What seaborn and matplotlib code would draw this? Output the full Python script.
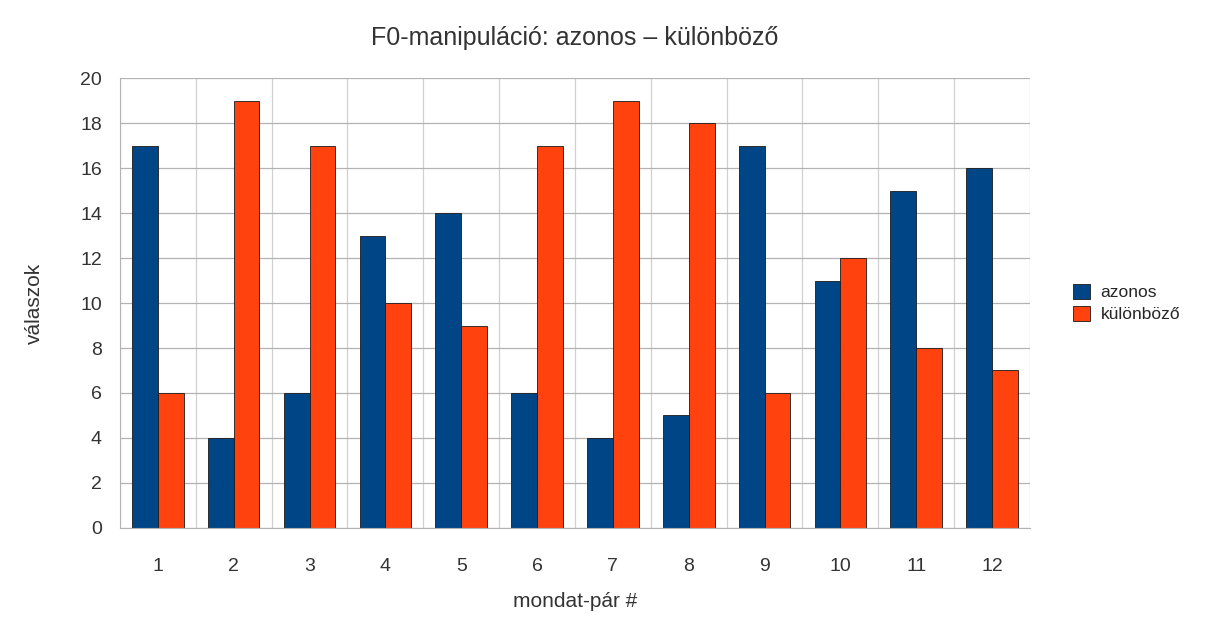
import matplotlib
matplotlib.use("Agg")
import matplotlib.pyplot as plt
from matplotlib.ticker import FixedLocator, MultipleLocator
import seaborn as sns
import pandas as pd

# chart data
pairs = [str(i) for i in range(1, 13)]
azonos = [17, 4, 6, 13, 14, 6, 4, 5, 17, 11, 15, 16]
kulonbozo = [6, 19, 17, 10, 9, 17, 19, 18, 6, 12, 8, 7]
series_names = ["azonos", "különböző"]
colors = ["#004586", "#ff420e"]

df = pd.DataFrame({
    "pair": pairs * 2,
    "value": azonos + kulonbozo,
    "series": [series_names[0]] * len(pairs) + [series_names[1]] * len(pairs),
})

sns.set_style("white")
plt.rcParams["font.family"] = ["Liberation Sans", "DejaVu Sans"]

fig = plt.figure(figsize=(12.24, 6.21), dpi=100)
ax = fig.add_axes([0.098, 0.150, 0.7435, 0.724])

sns.barplot(data=df, x="pair", y="value", hue="series", order=pairs,
            hue_order=series_names, palette=colors, width=0.68,
            edgecolor="#1a1a1a", linewidth=0.6, saturation=1, ax=ax)

ax.set_xlim(-0.5, len(pairs) - 0.5)
ax.set_ylim(0, 20)
ax.yaxis.set_major_locator(MultipleLocator(2))
ax.xaxis.set_minor_locator(FixedLocator([i - 0.5 for i in range(len(pairs) + 1)]))
ax.grid(True, axis="y", which="major", color="#b3b3b3", linewidth=0.9)
ax.grid(True, axis="x", which="minor", color="#d0d0d0", linewidth=0.9)
ax.set_axisbelow(True)
ax.tick_params(axis="x", which="major", length=0, labelsize=14, pad=22, colors="#333333")
ax.tick_params(axis="x", which="minor", length=7, width=0.9, color="#b3b3b3")
ax.tick_params(axis="y", which="major", length=7, width=0.9, color="#b3b3b3",
               labelsize=14, pad=6, colors="#333333")
for side in ["top", "right"]:
    ax.spines[side].set_visible(False)
ax.spines["left"].set_color("#b3b3b3")
ax.spines["bottom"].set_color("#b3b3b3")

ax.set_xlabel("mondat-pár #", fontsize=15, color="#333333", labelpad=12)
ax.set_ylabel("válaszok", fontsize=15, color="#333333", labelpad=26)
ax.set_title("F0-manipuláció: azonos – különböző", fontsize=18, color="#333333", pad=24)

sns.move_legend(ax, "center left", bbox_to_anchor=(1.03, 0.5), title=None,
                frameon=False, fontsize=12.5, handlelength=1.0, handleheight=1.0,
                handletextpad=0.6, labelspacing=0.3)

fig.savefig("out.png", dpi=100)
